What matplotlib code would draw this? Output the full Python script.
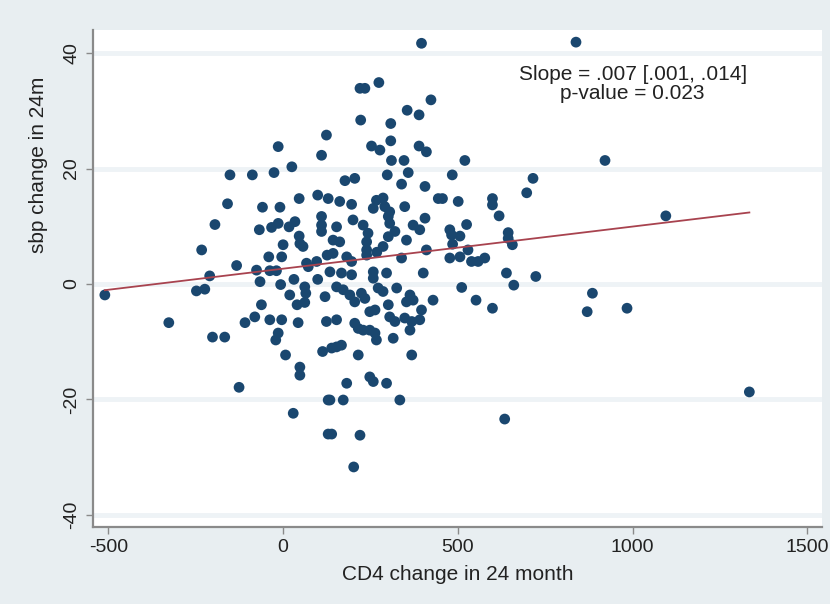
import matplotlib
matplotlib.use("Agg")
import matplotlib.pyplot as plt
import numpy as np

plt.rcParams['font.family'] = ['Liberation Sans', 'DejaVu Sans']

# ---- data ----
cd4_change = [
    -510, -327, -248, -224, -233, -210, -202, -167, -195, -159, -152, -126, -133, -109, -88, -81,
    -76, -68, -66, -62, -59, -41, -38, -33, -38, -26, -19, -21, -14, -14, -14, -9, -7, -4, -4, 0,
    7, 17, 19, 25, 29, 31, 34, 40, 43, 46, 46, 48, 48, 48, 57, 62, 65, 62, 67, 72, 96, 99, 99,
    110, 110, 110, 110, 113, 120, 124, 124, 126, 129, 129, 129,
    220, 234, 274, 222, 253, 277, 177, 205, 162, 196, 153, 200, 229, 243, 239, 239, 143, 162,
    143, 182, 196, 239, 134, 167, 196, 153, 172, 191, 205, 224, 234, 153, 205, 215, 229, 248,
    153, 167, 215, 139, 182, 134, 172, 139, 220, 202,
    308, 355, 389, 423, 396, 308, 389, 410, 310, 346, 358, 298, 339, 406, 444, 267, 291, 305,
    258, 348, 305, 320, 372, 406, 391, 301, 301, 286, 353, 410, 339, 401, 258, 296, 258, 272,
    286, 325, 301, 363, 372, 353, 429, 248, 263, 305, 320, 396, 348, 368, 391, 263, 267, 315,
    363, 368, 248, 258, 296, 334, 286, 268,
    456, 501, 484, 520, 525, 477, 482, 506, 485, 477, 506, 529, 539, 558, 577, 599, 599, 618,
    644, 644, 656, 639, 660, 723, 511, 552, 599, 634, 697, 715,
    838, 921, 885, 870, 984, 1095, 1334,
]
sbp_change = [
    -1.9, -6.7, -1.2, -0.9, 5.9, 1.4, -9.2, -9.2, 10.3, 13.9, 18.9, -17.9, 3.2, -6.7, 18.9, -5.7,
    2.4, 9.4, 0.4, -3.6, 13.3, 4.7, -6.2, 9.8, 2.3, 19.3, 2.3, -9.7, 23.8, 10.5, -8.5, 13.3, -0.1, 4.7, -6.2, 6.8,
    -12.3, 9.9, -1.9, 20.3, -22.4, 0.8, 10.8, -3.6, -6.7, 14.8, 8.3, 7.0, -14.4, -15.8, 6.5, -0.5, -1.6, -3.2, 3.6, 3.0, 3.9, 15.4, 0.8,
    22.3, 11.7, 10.2, 9.1, -11.7, -2.2, 25.8, -6.5, 5.0, 14.8, -20.1, -26.0,
    33.9, 33.9, 34.9, 28.4, 23.9, 23.2, 17.9, 18.3, 14.3, 13.8, 9.9, 11.1, 10.2, 8.8, 7.3, 5.9, 7.6, 7.3,
    5.3, 4.7, 3.9, 5.0, 2.1, 1.9, 1.6, -0.5, -1.0, -1.9, -3.1, -1.6, -2.5, -6.2, -6.8, -7.7, -8.0, -8.0,
    -10.9, -10.6, -12.3, -11.1, -17.2, -20.1, -20.1, -26.0, -26.2, -31.7,
    27.8, 30.1, 29.3, 31.9, 41.7, 24.8, 23.9, 22.9, 21.4, 21.4, 19.3, 18.9, 17.3, 16.9, 14.8, 14.5, 13.4, 12.5,
    13.1, 13.4, 10.5, 9.1, 10.2, 11.4, 9.4, 11.7, 8.2, 6.5, 7.6, 5.9, 4.5, 1.9, 2.1, 1.9, 1.0, -0.7,
    -1.3, -0.7, -3.6, -1.9, -2.8, -3.1, -2.8, -4.8, -4.5, -5.7, -6.5, -4.5, -5.9, -6.5, -6.2, -8.5, -9.7, -9.4,
    -8.0, -12.3, -16.1, -16.9, -17.2, -20.1, 14.9, 5.5,
    14.8, 14.3, 18.9, 21.4, 10.3, 9.4, 8.5, 8.3, 6.9, 4.5, 4.7, 5.9, 3.9, 3.9, 4.5, 14.8, 13.7, 11.8,
    8.9, 7.9, 6.8, 1.9, -0.2, 1.3, -0.6, -2.8, -4.2, -23.4, 15.8, 18.3,
    41.9, 21.4, -1.6, -4.8, -4.2, 11.8, -18.7,
]

fit_intercept = 2.65
fit_slope = 0.0073

x_ticks = [-500, 0, 500, 1000, 1500]
x_tick_labels = ["-500", "0", "500", "1000", "1500"]
y_ticks = [-40, -20, 0, 20, 40]
y_tick_labels = ["-40", "-20", "0", "20", "40"]

annotation = "Slope = .007 [.001, .014]\np-value = 0.023"
x_label = "CD4 change in 24 month"
y_label = "sbp change in 24m"

# ---- figure ----
bg = '#e8eef1'
fig = plt.figure(figsize=(8.3, 6.04), dpi=100, facecolor=bg)
ax = fig.add_axes([0.112, 0.1275, 0.878, 0.8228])
ax.set_facecolor('white')

for yt in y_ticks:
    ax.axhline(yt, color='#eef3f6', lw=3.5, zorder=0)

ax.scatter(cd4_change, sbp_change, s=60, color='#1a476f', edgecolors='none', zorder=3)

xs = np.array([min(cd4_change), max(cd4_change)])
ax.plot(xs, fit_intercept + fit_slope * xs, color='#a8434f', lw=1.3, zorder=4)

ax.set_xlim(-544, 1541)
ax.set_ylim(-42.1, 44.0)

ax.set_xticks(x_ticks)
ax.set_xticklabels(x_tick_labels)
ax.set_yticks(y_ticks)
ax.set_yticklabels(y_tick_labels, rotation=90, va='center')

for s in ['top', 'right']:
    ax.spines[s].set_visible(False)
for s in ['left', 'bottom']:
    ax.spines[s].set_color('#8a8a8a')
    ax.spines[s].set_linewidth(1.6)

ax.tick_params(axis='both', direction='out', length=5, width=1, color='#8a8a8a',
               labelsize=14, labelcolor='#222222', pad=4)

ax.set_xlabel(x_label, fontsize=15, color='#222222', labelpad=6)
ax.set_ylabel(y_label, fontsize=15, color='#222222', labelpad=8)
ax.yaxis.set_label_coords(-0.062, 0.728)

ax.text(1000, 34.7, annotation, ha='center', va='center', fontsize=15,
        color='#222222', linespacing=1.0, zorder=5)

fig.savefig('out.png', dpi=100, facecolor=bg)
